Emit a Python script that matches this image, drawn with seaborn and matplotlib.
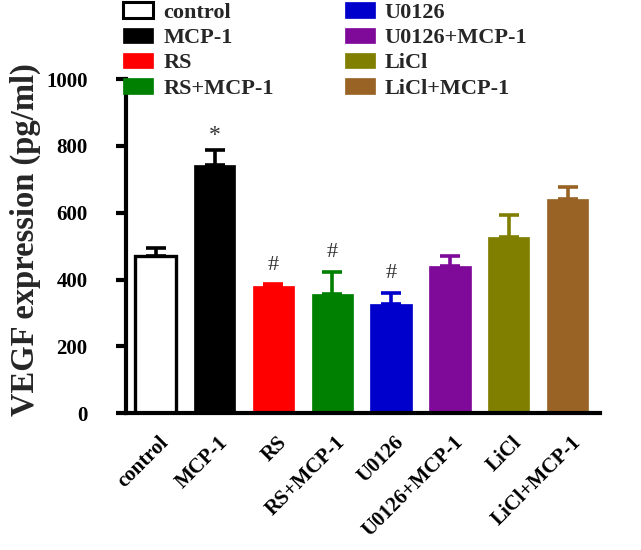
import matplotlib
matplotlib.use("Agg")
import matplotlib.pyplot as plt
from matplotlib.patches import Patch
from matplotlib.transforms import ScaledTranslation
import seaborn as sns

sns.set_theme(style="ticks")
plt.rcParams["font.family"] = ["Liberation Serif", "DejaVu Serif"]
plt.rcParams["font.weight"] = "bold"

groups = ["control", "MCP-1", "RS", "RS+MCP-1", "U0126", "U0126+MCP-1", "LiCl", "LiCl+MCP-1"]
means = [470, 742, 381, 358, 326, 441, 528, 640]
errors = [23, 47, 5, 65, 35, 30, 64, 36]
marks = ["", "*", "#", "#", "#", "", "", ""]
colors = ["#FFFFFF", "#000000", "#FF0000", "#008000", "#0000CC", "#7F0A99", "#807F00", "#996326"]

fig = plt.figure(figsize=(6.41, 5.5), dpi=100)
ax = fig.add_axes([0.197, 0.249, 0.739, 0.607])

sns.barplot(x=groups, y=means, hue=groups, palette=colors, width=0.7,
            dodge=False, legend=False, ax=ax, saturation=1)

for i, p in enumerate(ax.patches):
    if groups[i] == "control":
        p.set_edgecolor("black")
        p.set_linewidth(2.4)
    else:
        p.set_edgecolor(colors[i])
        p.set_linewidth(0.5)

for i, (m, e) in enumerate(zip(means, errors)):
    ec = "black" if colors[i] == "#FFFFFF" else colors[i]
    ax.errorbar(i, m, yerr=[[0], [e]], fmt="none", ecolor=ec,
                elinewidth=2.6, capsize=7.5, capthick=2.6, zorder=1)
    if marks[i]:
        ax.text(i, m + e + (28 if marks[i] == "#" else 12), marks[i],
                ha="center", va="bottom",
                fontsize=16 if marks[i] == "#" else 17, color="#333333",
                fontweight="normal")

ax.set_ylim(0, 1000)
ax.set_xlim(-0.5, 7.55)
ax.set_yticks([0, 200, 400, 600, 800, 1000])
ax.set_ylabel("VEGF expression (pg/ml)", fontsize=23.5, fontweight="bold")
ax.yaxis.set_label_coords(-0.18, 0.52)
ax.set_xlabel("")

for s in ["top", "right"]:
    ax.spines[s].set_visible(False)
for s in ["left", "bottom"]:
    ax.spines[s].set_linewidth(3)
    ax.spines[s].set_color("black")
ax.tick_params(axis="y", length=7, width=3, labelsize=15, colors="black", pad=21)
ax.tick_params(axis="x", length=0, labelsize=15, colors="black", pad=14)
for lbl in ax.get_yticklabels():
    lbl.set_fontweight("bold")
ax.set_xticks(range(len(groups)))
ax.set_xticklabels(groups, rotation=45, ha="right", rotation_mode="anchor",
                   fontweight="bold")
shift = ScaledTranslation(3 / 100, 0, fig.dpi_scale_trans)
for lbl in ax.get_xticklabels():
    lbl.set_transform(lbl.get_transform() + shift)

handles = [Patch(facecolor=c, edgecolor="black" if c == "#FFFFFF" else c,
                 linewidth=2.2 if c == "#FFFFFF" else 0.5) for c in colors]
fig.legend(handles, groups,
           ncol=2, loc="upper left", bbox_to_anchor=(0.161, 1.032),
           frameon=False, prop={"weight": "bold", "size": 16},
           handlelength=1.35, handleheight=0.7, columnspacing=3.2,
           labelspacing=0.21, handletextpad=0.45)

fig.savefig("out.png", dpi=100)
